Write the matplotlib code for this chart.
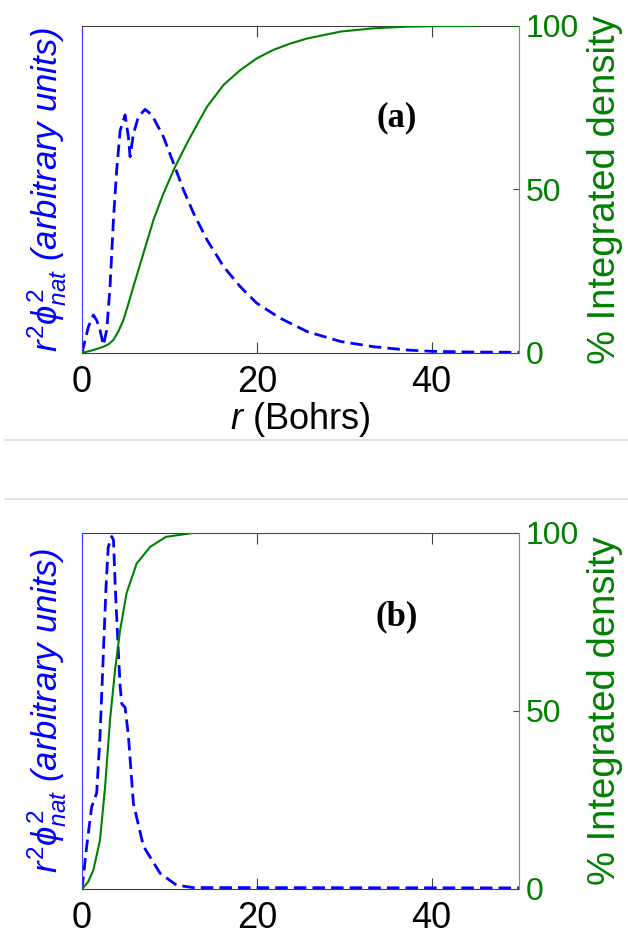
import matplotlib
matplotlib.use('Agg')
import matplotlib.pyplot as plt
from matplotlib.lines import Line2D

plt.rcParams['font.family'] = ['Liberation Sans', 'DejaVu Sans']
plt.rcParams['mathtext.fontset'] = 'custom'
plt.rcParams['mathtext.rm'] = 'Liberation Sans'
plt.rcParams['mathtext.it'] = 'Liberation Sans:italic'

# panel (a): natural orbital density (left axis) and integrated density in % (right axis)
r_a_blue = [0, 0.73, 1.3, 1.68, 2.06, 2.44, 2.83, 3.2, 3.6, 3.97, 4.36, 4.93, 5.31, 5.5,
            5.88, 6.46, 7.22, 7.99, 9.32, 10.47, 11.62, 12.77, 14.3, 16.2, 18.1, 20.0,
            22.7, 25.8, 29.6, 33.4, 37.2, 40.0, 44.3, 50.0]
v_a_blue = [0, 0.08, 0.116, 0.10, 0.07, 0.024, 0.07, 0.2, 0.41, 0.56, 0.68, 0.728, 0.66, 0.60,
            0.67, 0.723, 0.745, 0.728, 0.661, 0.580, 0.498, 0.427, 0.346, 0.264, 0.203, 0.152,
            0.106, 0.065, 0.035, 0.019, 0.009, 0.005, 0.003, 0.002]
r_a_green = [0, 1.3, 2.44, 3.0, 3.6, 4.2, 4.74, 5.3, 5.88, 7.03, 8.18, 9.32, 10.66, 12.0,
             13.2, 14.3, 16.2, 18.1, 20.0, 21.9, 23.8, 25.8, 29.6, 33.4, 37.2, 41.0, 45.0]
p_a_green = [0, 0.9, 1.9, 2.6, 4.0, 6.8, 10.1, 15.0, 20.3, 30.5, 40.7, 48.8, 57.0, 64.1,
             70.0, 75.3, 82.0, 86.5, 90.1, 92.7, 94.6, 96.2, 98.3, 99.3, 99.8, 100, 100]

# panel (b)
r_b_blue = [0, 0.53, 1.1, 1.68, 2.06, 2.44, 2.75, 3.0, 3.4, 3.6, 3.8, 4.17, 4.36, 4.55,
            4.93, 5.31, 5.88, 7.03, 8.94, 10.8, 12.7, 50.0]
v_b_blue = [0, 0.119, 0.23, 0.27, 0.43, 0.66, 0.85, 0.96, 0.99, 0.98, 0.85, 0.66, 0.57, 0.52,
            0.51, 0.43, 0.24, 0.12, 0.044, 0.011, 0.004, 0.003]
r_b_green = [0, 0.7, 1.3, 2.06, 2.64, 3.2, 3.78, 4.36, 5.1, 6.25, 7.8, 9.6, 12.7, 50.0]
p_b_green = [0, 2.0, 5.3, 13.8, 28.7, 47.4, 61.5, 72.7, 83.1, 91.4, 96.1, 98.9, 100, 100]

x_ticks = [0, 20, 40]
pct_ticks = [0, 50, 100]

BLUE = '#0000ff'
GREEN = '#008000'
DARK = '#404040'


def draw_panel(rect, r_blue, v_blue, r_green, p_green, tag, tag_y, xlabel=None):
    ax = fig.add_axes(rect)
    ax2 = ax.twinx()

    ax.plot(r_blue, v_blue, color=BLUE, lw=2.0, linestyle=(0, (4.5, 2.2)))
    ax2.plot(r_green, p_green, color=GREEN, lw=1.5)

    ax.set_xlim(0, 50)
    ax.set_ylim(0, 1)
    ax2.set_ylim(0, 100)

    ax.set_xticks(x_ticks)
    ax.set_yticks([])
    ax.tick_params(axis='x', direction='in', top=True, length=8, color=DARK,
                   labelsize=26, pad=9, labelcolor='black')
    ax2.set_yticks(pct_ticks)
    ax2.tick_params(axis='y', direction='in', length=4, color=GREEN,
                    labelcolor=GREEN, labelsize=23, pad=5)

    for s in ['top', 'bottom']:
        ax.spines[s].set_color(DARK)
    ax.spines['left'].set_color('#3c3cff')
    ax.spines['right'].set_visible(False)
    ax2.spines['right'].set_color('#4caf50')
    for s in ['top', 'bottom', 'left']:
        ax2.spines[s].set_visible(False)

    ax.set_ylabel(r'$r^2\phi^2_{nat}$ (arbitrary units)', color=BLUE,
                  fontsize=25, style='italic')
    ax.yaxis.set_label_coords(-0.03, 0.5)
    ax2.set_ylabel('% Integrated density', color=GREEN, fontsize=27.5)
    ax2.yaxis.set_label_coords(1.156, 0.5)

    if xlabel:
        ax.set_xlabel(xlabel, fontsize=26, labelpad=0)

    ax.text(36, tag_y, tag, fontsize=25, fontweight='bold',
            family='Liberation Serif', ha='center', va='center')
    return ax, ax2


fig = plt.figure(figsize=(6.28, 9.35), dpi=100)

draw_panel([0.1306, 0.6225, 0.6958, 0.3497], r_a_blue, v_a_blue, r_a_green, p_a_green,
           '(a)', 0.72, xlabel=r'$r$ (Bohrs)')
draw_panel([0.1306, 0.0492, 0.6958, 0.3808], r_b_blue, v_b_blue, r_b_green, p_b_green,
           '(b)', 0.765)

# light separators between the two stacked panels
for yy in [440, 499]:
    fig.add_artist(Line2D([5 / 628, 1], [1 - yy / 935] * 2, color='#dcdcdc', lw=1.2,
                          transform=fig.transFigure))

fig.savefig('out.png', dpi=100)
